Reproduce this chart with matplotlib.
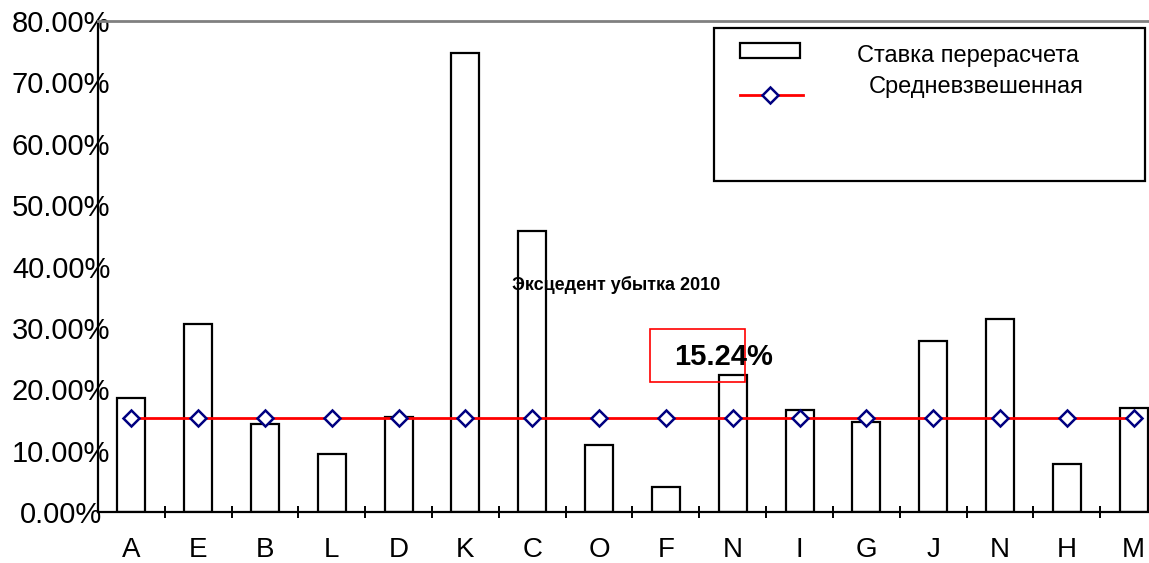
import matplotlib.pyplot as plt
from matplotlib.patches import Rectangle
from matplotlib.lines import Line2D

plt.rcParams['font.family'] = ['Liberation Sans', 'DejaVu Sans']

# Data
categories = ["A", "E", "B", "L", "D", "K", "C", "O", "F", "N", "I", "G", "J", "N", "H", "M"]
rates = [18.6, 30.6, 14.4, 9.4, 15.5, 74.8, 45.8, 10.9, 4.1, 22.3, 16.7, 14.7, 27.9, 31.4, 7.9, 17.0]
weighted_avg = 15.24
y_ticks = [0, 10, 20, 30, 40, 50, 60, 70, 80]

W, H = 1149, 563
fig = plt.figure(figsize=(W / 100, H / 100), dpi=100)

# axes run past the right edge of the picture, like in the original
ax_left, ax_right, ax_top, ax_bottom = 98, 1167, 21, 512
ax = fig.add_axes([ax_left / W, (H - ax_bottom) / H,
                   (ax_right - ax_left) / W, (ax_bottom - ax_top) / H])

x = list(range(len(categories)))
ax.bar(x, rates, width=0.42, facecolor="white", edgecolor="black", linewidth=1.6, zorder=2)
ax.plot(x, [weighted_avg] * len(x), color="red", linewidth=2, zorder=3,
        marker="D", markersize=8.5, markerfacecolor="white",
        markeredgecolor="navy", markeredgewidth=1.8)

ax.set_xlim(-0.5, len(categories) - 0.5)
ax.set_ylim(0, 80)

# spines
ax.spines["top"].set_color("#808080")
ax.spines["top"].set_linewidth(2)
ax.spines["left"].set_linewidth(1.6)
ax.spines["bottom"].set_linewidth(1.6)
ax.spines["right"].set_visible(False)

# y ticks: labels only, centred, overlapping the axis a bit
ax.set_yticks(y_ticks)
ax.set_yticklabels([f"{v:.2f}%" for v in y_ticks], fontsize=21)
ax.tick_params(axis="y", length=0, pad=26.5)
plt.setp(ax.get_yticklabels(), ha="center")

# x ticks: labels at centers, tick marks between categories
ax.set_xticks(x)
ax.set_xticklabels(categories, fontsize=20)
ax.tick_params(axis="x", which="major", length=0, pad=18)
ax.set_xticks([i + 0.5 for i in x[:-1]], minor=True)
ax.tick_params(axis="x", which="minor", direction="inout", length=9, width=1.4)

# annotations
fig.text(616 / W, 1 - 285 / H, "Эксцедент убытка 2010", fontsize=13,
         fontweight="bold", ha="center", va="center")
fig.patches.append(Rectangle((650 / W, 1 - 382 / H), 95 / W, 53 / H,
                             transform=fig.transFigure, fill=False,
                             edgecolor="red", linewidth=1.2, zorder=5))
fig.text(724 / W, 1 - 357 / H, f"{weighted_avg:.2f}%", fontsize=21,
         fontweight="bold", ha="center", va="center", zorder=6)

# legend box
fig.patches.append(Rectangle((714 / W, 1 - 181 / H), 431 / W, 153 / H,
                             transform=fig.transFigure, facecolor="white",
                             edgecolor="black", linewidth=1.6, zorder=5))
fig.patches.append(Rectangle((740 / W, 1 - 58 / H), 60 / W, 15 / H,
                             transform=fig.transFigure, facecolor="white",
                             edgecolor="black", linewidth=1.6, zorder=6))
fig.lines.append(Line2D([740 / W, 803 / W], [1 - 95 / H, 1 - 95 / H],
                        transform=fig.transFigure, color="red", linewidth=2,
                        zorder=6))
fig.lines.append(Line2D([770 / W], [1 - 95 / H], transform=fig.transFigure,
                        marker="D", markersize=8.5, markerfacecolor="white",
                        markeredgecolor="navy", markeredgewidth=1.8, zorder=7))
fig.text(857 / W, 1 - 56 / H, "Ставка перерасчета", fontsize=17,
         ha="left", va="center", zorder=7)
fig.text(869 / W, 1 - 87 / H, "Средневзвешенная", fontsize=17,
         ha="left", va="center", zorder=7)

fig.savefig("out.png", dpi=100)
